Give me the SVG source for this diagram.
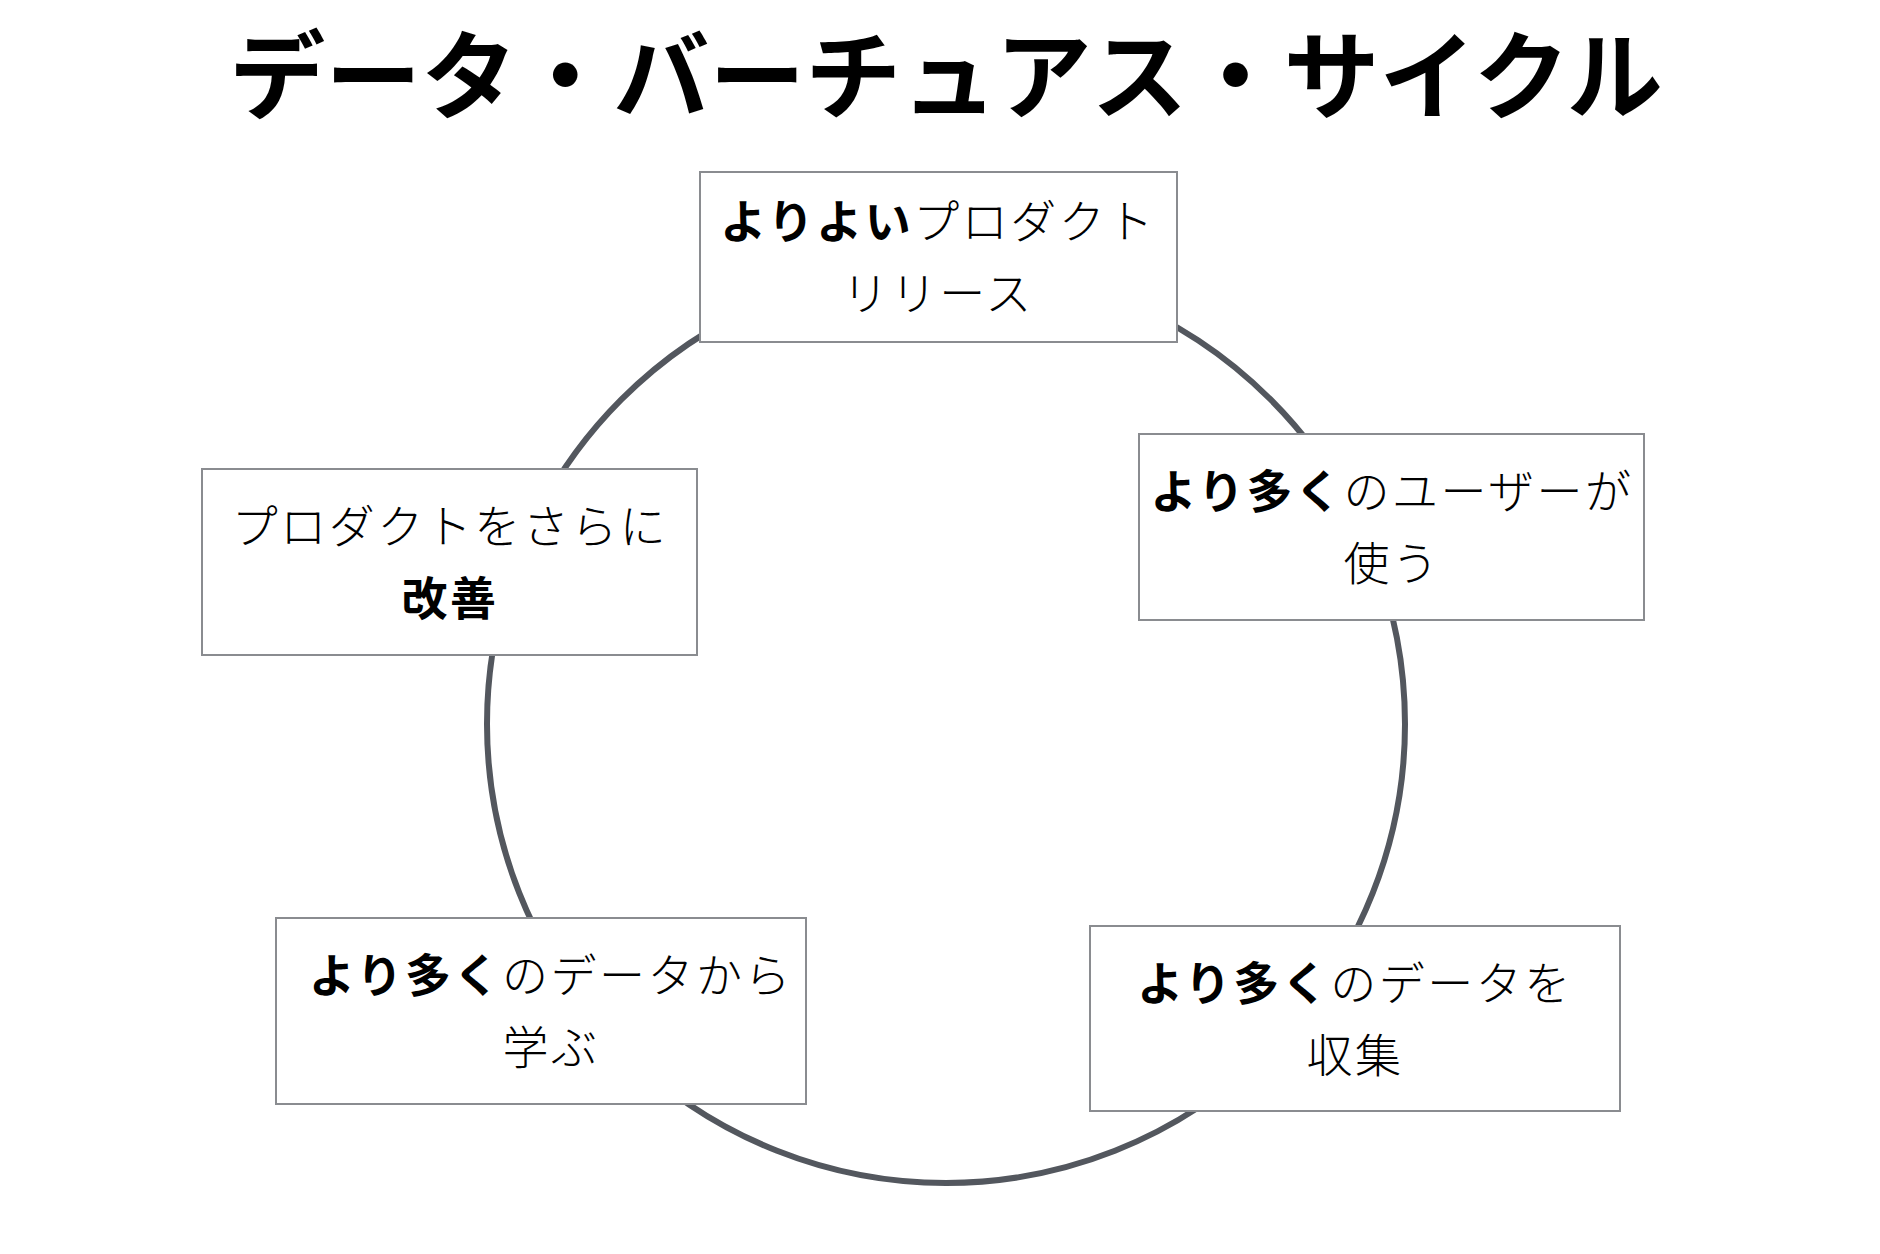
<svg xmlns="http://www.w3.org/2000/svg" width="1880" height="1254" viewBox="0 0 1880 1254">
<style>
.title{font-family:"Noto Sans CJK JP","Noto Sans",sans-serif;font-size:96px;font-weight:700;fill:#000;text-anchor:middle}
.box{fill:#fff;stroke:#8a8c90;stroke-width:2}
.lbl{font-family:"Noto Sans CJK JP","Noto Sans",sans-serif;font-size:46px;font-weight:300;fill:#000;text-anchor:middle;letter-spacing:2.5px}
.b{font-weight:700}
.ring{fill:none;stroke:#53575e;stroke-width:6}
</style>
<rect width="1880" height="1254" fill="#fff"/>
<text class="title" x="946" y="111">データ・バーチュアス・サイクル</text>
<g id="connectors">
<circle class="ring" cx="946" cy="724" r="459"/>
</g>
<g id="node-release">
<rect class="box" x="700" y="172" width="477" height="170"/>
<text class="lbl" x="938" y="238"><tspan class="b">よりよい</tspan>プロダクト</text>
<text class="lbl" x="938" y="310">リリース</text>
</g>
<g id="node-users">
<rect class="box" x="1139" y="434" width="505" height="186"/>
<text class="lbl" x="1392" y="508"><tspan class="b">より多く</tspan>のユーザーが</text>
<text class="lbl" x="1392" y="580">使う</text>
</g>
<g id="node-collect">
<rect class="box" x="1090" y="926" width="530" height="185"/>
<text class="lbl" x="1355" y="1000"><tspan class="b">より多く</tspan>のデータを</text>
<text class="lbl" x="1355" y="1072">収集</text>
</g>
<g id="node-learn">
<rect class="box" x="276" y="918" width="530" height="186"/>
<text class="lbl" x="551" y="992"><tspan class="b">より多く</tspan>のデータから</text>
<text class="lbl" x="551" y="1064">学ぶ</text>
</g>
<g id="node-improve">
<rect class="box" x="202" y="469" width="495" height="186"/>
<text class="lbl" x="450" y="543">プロダクトをさらに</text>
<text class="lbl" x="450" y="615"><tspan class="b">改善</tspan></text>
</g>
</svg>
